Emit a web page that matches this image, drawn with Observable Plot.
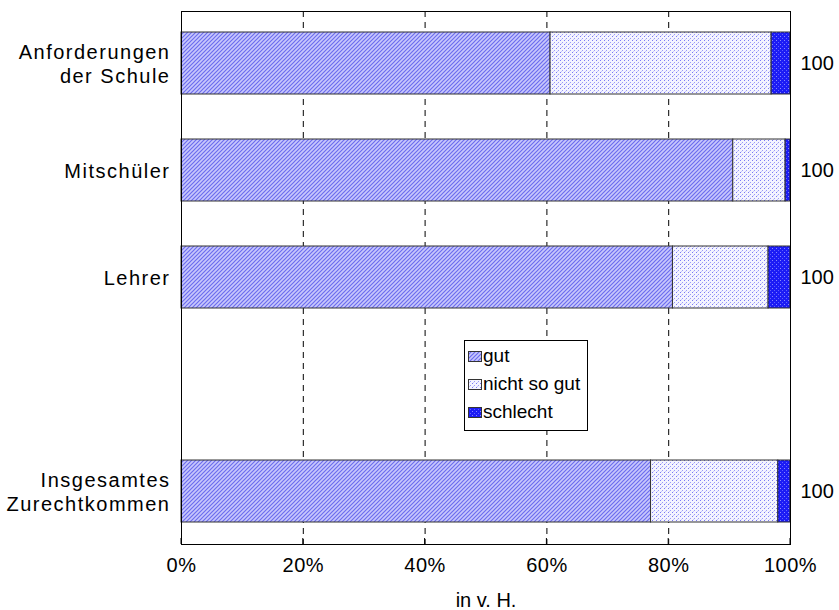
<!DOCTYPE html>
<html><head><meta charset="utf-8">
<script src="https://cdn.jsdelivr.net/npm/d3@7"></script>
<script src="https://cdn.jsdelivr.net/npm/@observablehq/plot@0.6"></script>
<style>
body{margin:0;background:#fff;font-family:"Liberation Sans",Arial,sans-serif;}
#wrap{position:relative;width:839px;height:610px;}
#legend{position:absolute;left:464px;top:340px;width:124px;height:91px;border:1px solid #000;background:#fff;box-sizing:border-box;font-size:19px;color:#000;}
#legend .it{position:absolute;left:3px;height:22px;display:flex;align-items:center;white-space:nowrap;}
#legend svg{margin-right:1px;}
</style></head><body>
<svg width="0" height="0" style="position:absolute">
<defs>
<pattern id="pGut" width="4" height="4" patternUnits="userSpaceOnUse">
<rect width="4" height="4" fill="#c8c8fc"/>
<path d="M-1,1 L1,-1 M0,4 L4,0 M3,5 L5,3" stroke="#6c6cef" stroke-width="1.2"/>
</pattern>
<pattern id="pNicht" width="4" height="4" patternUnits="userSpaceOnUse">
<rect width="4" height="4" fill="#f4f4ff"/>
<rect x="0" y="0" width="1" height="1" fill="#7a7af5"/>
<rect x="2" y="2" width="1" height="1" fill="#9a9af8"/>
<rect x="1" y="3" width="1" height="1" fill="#c8c8fb"/>
</pattern>
<pattern id="pSchlecht" width="4" height="4" patternUnits="userSpaceOnUse">
<rect width="4" height="4" fill="#1c1cf5"/>
<rect x="0" y="0" width="1" height="1" fill="#8888ff"/>
<rect x="2" y="2" width="1" height="1" fill="#6060ff"/>
</pattern>
</defs>
</svg>
<div id="wrap"></div>
<script>
const categories = ["Anforderungen\nder Schule", "Mitschüler", "Lehrer", " ", "Insgesamtes\nZurechtkommen"];
const seriesNames = ["gut", "nicht so gut", "schlecht"];
const gut =        [60.6, 90.6, 80.7, null, 77.1];
const nichtSoGut = [36.3, 8.6, 15.7, null, 20.9];
const schlecht =   [3.1, 0.8, 3.6, null, 2.0];
const totals = ["100", "100", "100", null, "100"];
const xTicks = [0, 20, 40, 60, 80, 100];
const xLabel = "in v. H.";

const patterns = {"gut": "url(#pGut)", "nicht so gut": "url(#pNicht)", "schlecht": "url(#pSchlecht)"};
const seriesValues = [gut, nichtSoGut, schlecht];
const rows = [];
categories.forEach((c, i) => {
  seriesNames.forEach((s, j) => {
    const v = seriesValues[j][i];
    if (v != null) rows.push({cat: c, series: s, value: v, order: j});
  });
});
const totalRows = categories.map((c, i) => ({cat: c, t: totals[i]})).filter(d => d.t != null);

const W = 839, H = 610, mT = 11, mB = 66;
const chart = Plot.plot({
  width: W,
  height: H,
  marginLeft: 181,
  marginRight: 49,
  marginTop: mT,
  marginBottom: mB,
  style: {fontFamily: "'Liberation Sans', Arial, sans-serif", fontSize: "20px", color: "#000", background: "#fff"},
  x: {domain: [0, 100], ticks: xTicks, tickFormat: d => d + "%", label: null},
  y: {domain: categories, paddingInner: 0.42, paddingOuter: 0.2, label: null},
  color: {type: "identity"},
  marks: [
    Plot.ruleX([20, 40, 60, 80], {stroke: "#000", strokeDasharray: "6,5", strokeWidth: 1}),
    Plot.barX(rows, Plot.stackX({x: "value", y: "cat", order: "order", fill: d => patterns[d.series], stroke: "#333", strokeWidth: 1})),
    Plot.frame({stroke: "#000", strokeWidth: 1}),
    Plot.axisX({ticks: xTicks, tickFormat: d => d + "%", tickSize: 0, tickPadding: 13, fontSize: 20, label: null}),
    Plot.axisY({tickSize: 0, tickPadding: 11, fontSize: 20, label: null, lineHeight: 1.18}),
    Plot.text([xLabel], {frameAnchor: "bottom", dy: 62, text: d => d, fontSize: 20}),
    Plot.text(totalRows, {x: () => 100, y: "cat", text: "t", textAnchor: "start", dx: 10, fontSize: 20})
  ]
});
document.getElementById("wrap").appendChild(chart);

const svg = d3.select(chart);
svg.selectAll("g[aria-label='y-axis tick label'] text").style("letter-spacing", "1.5px");
svg.selectAll("g[aria-label='x-axis tick label'] text").style("letter-spacing", "0.5px");
// short inner ticks on the bottom axis
const xs = chart.scale("x");
const yb = H - mB;
const g = svg.append("g");
xTicks.forEach(t => {
  g.append("line").attr("x1", xs.apply(t)).attr("x2", xs.apply(t)).attr("y1", yb).attr("y2", yb - 6).attr("stroke", "#000");
});

const legend = document.createElement("div");
legend.id = "legend";
seriesNames.forEach((s, i) => {
  const it = document.createElement("div");
  it.className = "it";
  it.style.top = (4 + i * 28) + "px";
  it.innerHTML = `<svg width="14" height="11"><rect x="0.5" y="0.5" width="13" height="10" fill="${patterns[s]}" stroke="#333"/></svg><span>${s}</span>`;
  legend.appendChild(it);
});
document.getElementById("wrap").appendChild(legend);
</script>
</body></html>
